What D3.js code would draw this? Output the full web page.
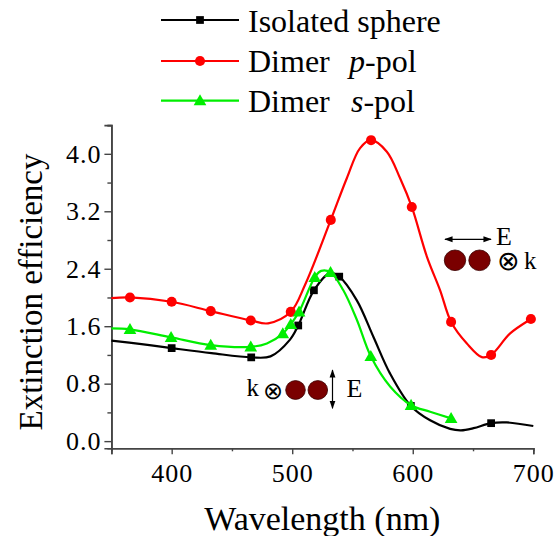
<!DOCTYPE html>
<html>
<head>
<meta charset="utf-8">
<script src="https://cdn.jsdelivr.net/npm/d3@7"></script>
<style>
  html, body { margin: 0; padding: 0; background: #fff; }
  svg { display: block; }
  text { font-family: "Liberation Serif", "Times New Roman", serif; fill: #000; }
</style>
</head>
<body>
<svg id="chart" width="554" height="536"></svg>
<script>
// Extinction spectra: [wavelength (nm), efficiency, symbol flag]
const isolatedSphere = [
  [350, 1.40], [375, 1.35], [400, 1.295, 1], [433, 1.225], [466, 1.166, 1],
  [482, 1.18], [498, 1.41], [505, 1.61, 1], [518, 2.10, 1], [531.5, 2.34],
  [539, 2.29, 1], [553.6, 1.96], [567.4, 1.45], [581.2, 0.94], [598.4, 0.49, 1],
  [614.4, 0.29], [631, 0.17], [640, 0.15], [650.4, 0.18], [665, 0.25, 1],
  [678, 0.26], [700, 0.21]
];
const dimerP = [
  [350, 1.99], [365.4, 2.00, 1], [400, 1.94, 1], [432.4, 1.81, 1], [465.6, 1.68, 1],
  [480, 1.64], [498.8, 1.80, 1], [510.5, 2.17], [532, 3.08, 1], [545.3, 3.66],
  [556.3, 4.08], [565.4, 4.19, 1], [578.5, 4.03], [589.5, 3.66], [599.2, 3.26, 1],
  [611.7, 2.57], [622.7, 2.10], [631.8, 1.66, 1], [644.9, 1.36], [657.3, 1.17],
  [665, 1.20, 1], [680.8, 1.50], [698, 1.70, 1], [700, 1.72]
];
const dimerS = [
  [350, 1.57], [365.4, 1.556, 1], [399.5, 1.444, 1], [432.4, 1.337, 1], [465.6, 1.313, 1],
  [479, 1.36], [492.2, 1.497, 1], [498.8, 1.627, 1], [505.7, 1.80, 1], [518.7, 2.28, 1],
  [524, 2.37], [531.8, 2.35, 1], [542.4, 2.10], [553.6, 1.69], [565.2, 1.18, 1],
  [581.2, 0.76], [598.6, 0.50, 1], [614.4, 0.41], [631.8, 0.316, 1]
];

const xMajorTicks = [350, 400, 500, 600, 700];
const xTickLabels = ["", "400", "500", "600", "700"];
const xMinorTicks = [450, 550, 650];
const yMajorTicks = [0, 0.8, 1.6, 2.4, 3.2, 4.0];
const yMinorTicks = [0.4, 1.2, 2.0, 2.8, 3.6, 4.4];

const seriesNames = ["Isolated sphere", "Dimer p-pol", "Dimer s-pol"];
const seriesColors = ["#000000", "#ff0000", "#00ee00"];

const svg = d3.select("#chart");
const x = d3.scaleLinear().domain([350, 700]).range([111.4, 533.3]);
const y = d3.scaleLinear().domain([-0.10, 4.4]).range([448.3, 125.1]);

const axisColor = "#444";

// Axes
const gx = svg.append("g").attr("transform", `translate(0,${y(-0.10)})`);
gx.call(d3.axisBottom(x).tickValues(xMajorTicks).tickSize(6).tickFormat((d, i) => xTickLabels[i]));
gx.append("g").call(d3.axisBottom(x).tickValues(xMinorTicks).tickSize(3).tickFormat(""));
gx.selectAll(".domain").attr("stroke", axisColor).attr("stroke-width", 1.6);
gx.selectAll(".tick line").attr("stroke", axisColor).attr("stroke-width", 1.4);
gx.selectAll(".tick text")
  .attr("font-family", "Liberation Serif").attr("font-size", 26)
  .attr("letter-spacing", 1).attr("fill", "#000").attr("y", 15).attr("dy", "0.71em");

const gy = svg.append("g").attr("transform", `translate(${x(350)},0)`);
gy.call(d3.axisLeft(y).tickValues(yMajorTicks).tickSize(7).tickFormat(d3.format(".1f")));
gy.append("g").call(d3.axisLeft(y).tickValues(yMinorTicks).tickSize(4).tickFormat(""));
gy.selectAll(".domain").attr("stroke", axisColor).attr("stroke-width", 1.6);
gy.selectAll(".tick line").attr("stroke", axisColor).attr("stroke-width", 1.4);
gy.selectAll(".tick text")
  .attr("font-family", "Liberation Serif").attr("font-size", 26)
  .attr("letter-spacing", 1).attr("fill", "#000").attr("x", -10).attr("dy", "0.32em");

// Axis titles
svg.append("text").attr("x", x(525)).attr("y", 530)
  .attr("text-anchor", "middle").attr("font-size", 34).text("Wavelength (nm)");
svg.append("text").attr("transform", `translate(42,292) rotate(-90)`)
  .attr("text-anchor", "middle").attr("font-size", 33).text("Extinction efficiency");

// Curves
const line = d3.line().x(d => x(d[0])).y(d => y(d[1])).curve(d3.curveCatmullRom.alpha(0.5));
const allSeries = [isolatedSphere, dimerP, dimerS];
const symbolTypes = [d3.symbolSquare, d3.symbolCircle, d3.symbolTriangle];
const symbolSizes = [60, 80, 70];

allSeries.forEach((data, i) => {
  svg.append("path").datum(data)
    .attr("d", line).attr("fill", "none")
    .attr("stroke", seriesColors[i]).attr("stroke-width", 2.2);
  svg.append("g").selectAll("path").data(data.filter(d => d[2]))
    .join("path")
    .attr("d", d3.symbol().type(symbolTypes[i]).size(symbolSizes[i]))
    .attr("transform", d => `translate(${x(d[0])},${y(d[1]) + (i === 2 ? 1 : 0)})`)
    .attr("fill", seriesColors[i]);
});

// Legend
const legendRows = [20, 61, 100.7];
const legend = svg.append("g");
legendRows.forEach((ly, i) => {
  legend.append("line").attr("x1", 161).attr("x2", 239).attr("y1", ly).attr("y2", ly)
    .attr("stroke", seriesColors[i]).attr("stroke-width", 2.2);
  legend.append("path")
    .attr("d", d3.symbol().type(symbolTypes[i]).size(symbolSizes[i]))
    .attr("transform", `translate(200,${ly + (i === 2 ? 1 : 0)})`)
    .attr("fill", seriesColors[i]);
});
legend.append("text").attr("x", 248).attr("y", 32).attr("font-size", 32).text(seriesNames[0]);
const tp = legend.append("text").attr("x", 248).attr("y", 72).attr("font-size", 32);
tp.append("tspan").text("Dimer");
tp.append("tspan").attr("x", 349).attr("font-style", "italic").text("p");
tp.append("tspan").text("-pol");
const ts = legend.append("text").attr("x", 248).attr("y", 112).attr("font-size", 32);
ts.append("tspan").text("Dimer");
ts.append("tspan").attr("x", 351).attr("font-style", "italic").text("s");
ts.append("tspan").text("-pol");

// Dimer sketches with field and wave-vector directions
const dimerFill = "#7a0000";
svg.append("defs").append("marker")
  .attr("id", "arrowHead").attr("viewBox", "0 0 10 10").attr("refX", 9).attr("refY", 5)
  .attr("markerWidth", 7).attr("markerHeight", 7).attr("orient", "auto-start-reverse")
  .append("path").attr("d", "M0,1.5 L10,5 L0,8.5 Z").attr("fill", "#000");

// p-polarisation sketch
const p1 = svg.append("g");
p1.append("line").attr("x1", 445).attr("x2", 491).attr("y1", 239.3).attr("y2", 239.3)
  .attr("stroke", "#000").attr("stroke-width", 1.2)
  .attr("marker-start", "url(#arrowHead)").attr("marker-end", "url(#arrowHead)");
p1.append("text").attr("x", 496).attr("y", 244.5).attr("font-size", 26).text("E");
[455, 479.5].forEach(cx => p1.append("ellipse").attr("cx", cx).attr("cy", 260.3)
  .attr("rx", 10.7).attr("ry", 10.3).attr("fill", dimerFill).attr("stroke", "#3a0000").attr("stroke-width", 0.8));
p1.append("text").attr("x", 508.7).attr("y", 269.5).attr("text-anchor", "middle")
  .attr("font-family", "DejaVu Sans").attr("font-size", 27).text("⊗");
p1.append("text").attr("x", 524).attr("y", 269).attr("font-size", 25).text("k");

// s-polarisation sketch
const p2 = svg.append("g");
p2.append("text").attr("x", 246.5).attr("y", 396).attr("font-size", 25).text("k");
p2.append("text").attr("x", 273.3).attr("y", 398.5).attr("text-anchor", "middle")
  .attr("font-family", "DejaVu Sans").attr("font-size", 24).text("⊗");
[295.5, 317.8].forEach(cx => p2.append("ellipse").attr("cx", cx).attr("cy", 390)
  .attr("rx", 9.8).attr("ry", 9.4).attr("fill", dimerFill).attr("stroke", "#3a0000").attr("stroke-width", 0.8));
p2.append("line").attr("x1", 332.5).attr("x2", 332.5).attr("y1", 370).attr("y2", 408.3)
  .attr("stroke", "#000").attr("stroke-width", 1.2)
  .attr("marker-start", "url(#arrowHead)").attr("marker-end", "url(#arrowHead)");
p2.append("text").attr("x", 346.5).attr("y", 397).attr("font-size", 26).text("E");
</script>
</body>
</html>
